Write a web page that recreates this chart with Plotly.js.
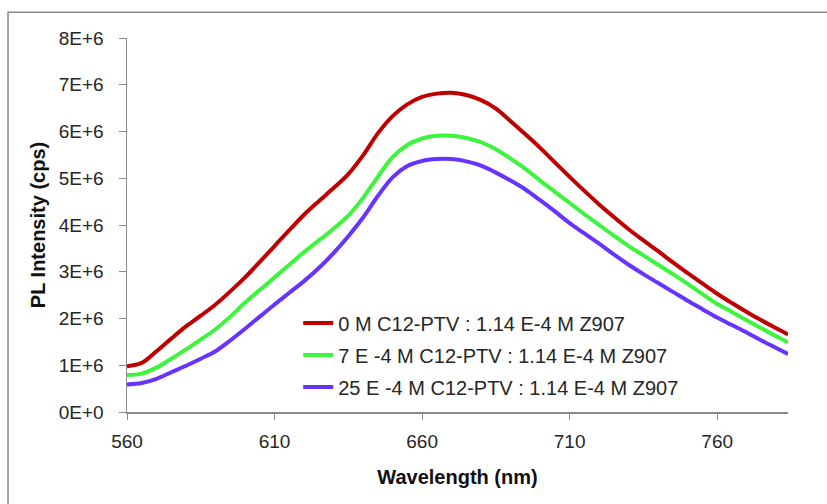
<!DOCTYPE html>
<html>
<head>
<meta charset="utf-8">
<script src="https://cdn.plot.ly/plotly-3.0.1.min.js"></script>
<style>html,body{margin:0;padding:0;background:#fff;}#chart{width:827px;height:504px;}</style>
</head>
<body>
<div id="chart"></div>
<script>
const wavelength = [560, 565, 570, 575, 580, 585, 590, 595, 600, 605, 610, 615, 620, 625, 630, 635, 640, 645, 650, 655, 660, 665, 670, 675, 680, 685, 690, 695, 700, 705, 710, 715, 720, 725, 730, 735, 740, 745, 750, 755, 760, 765, 770, 775, 780, 784];
const pl0 = [0.98, 1.05, 1.30, 1.57, 1.83, 2.06, 2.30, 2.58, 2.88, 3.21, 3.55, 3.89, 4.22, 4.51, 4.79, 5.09, 5.49, 5.96, 6.33, 6.58, 6.74, 6.81, 6.83, 6.78, 6.67, 6.49, 6.22, 5.94, 5.65, 5.34, 5.03, 4.73, 4.44, 4.17, 3.91, 3.67, 3.44, 3.20, 2.97, 2.75, 2.53, 2.33, 2.14, 1.96, 1.79, 1.66];
const pl7 = [0.79, 0.82, 0.95, 1.14, 1.34, 1.55, 1.77, 2.04, 2.34, 2.61, 2.88, 3.15, 3.42, 3.67, 3.92, 4.20, 4.58, 5.03, 5.45, 5.71, 5.85, 5.91, 5.91, 5.86, 5.77, 5.62, 5.42, 5.20, 4.95, 4.71, 4.47, 4.23, 4.00, 3.77, 3.55, 3.35, 3.15, 2.95, 2.74, 2.52, 2.31, 2.14, 1.96, 1.79, 1.62, 1.49];
const pl25 = [0.59, 0.62, 0.71, 0.85, 0.99, 1.14, 1.30, 1.53, 1.78, 2.04, 2.30, 2.55, 2.80, 3.08, 3.40, 3.76, 4.16, 4.62, 5.02, 5.26, 5.37, 5.41, 5.41, 5.36, 5.27, 5.12, 4.95, 4.76, 4.53, 4.29, 4.04, 3.82, 3.60, 3.37, 3.15, 2.95, 2.76, 2.57, 2.38, 2.20, 2.02, 1.86, 1.70, 1.53, 1.37, 1.24];
const seriesNames = ["0 M C12-PTV : 1.14 E-4 M Z907", "7 E -4 M C12-PTV : 1.14 E-4 M Z907", "25 E -4 M C12-PTV : 1.14 E-4 M Z907"];
const seriesColors = ["#C00000", "#3CF53C", "#6633FF"];
const yTickVals = [0, 1e6, 2e6, 3e6, 4e6, 5e6, 6e6, 7e6, 8e6];
const yTickText = ["0E+0", "1E+6", "2E+6", "3E+6", "4E+6", "5E+6", "6E+6", "7E+6", "8E+6"];
const xTickVals = [560, 610, 660, 710, 760];

const scale = v => v * 1e6;
const seriesValues = [pl0, pl7, pl25];
const traces = seriesValues.map((vals, i) => ({
  x: wavelength,
  y: vals.map(scale),
  type: 'scatter',
  mode: 'lines',
  name: seriesNames[i],
  legendgroup: 'g' + i,
  line: {color: seriesColors[i], width: 4, shape: 'spline', smoothing: 1}
}));

const font = "'Liberation Sans', Arial, sans-serif";
const txt = '#262626';
const layout = {
  width: 827, height: 504,
  margin: {l: 127, r: 39, t: 38, b: 92},
  paper_bgcolor: '#fff', plot_bgcolor: '#fff',
  font: {family: font, size: 19, color: txt},
  showlegend: true,
  legend: {x: 0.259, y: 0.29, xanchor: 'left', yanchor: 'top', bgcolor: 'rgba(0,0,0,0)',
           font: {family: font, size: 20, color: txt}, tracegroupgap: 3, itemwidth: 30},
  xaxis: {
    range: [560, 784], tickvals: xTickVals, ticktext: xTickVals.map(String),
    showgrid: false, zeroline: false, showline: true, linecolor: '#8a8a8a', linewidth: 1.5,
    ticks: 'outside', ticklen: 6, tickcolor: '#8a8a8a', ticklabelstandoff: 6,
    tickfont: {family: font, size: 19, color: txt},
    title: {text: 'Wavelength (nm)', font: {family: font, size: 20, color: '#111', weight: 'bold'}, standoff: 18}
  },
  yaxis: {
    range: [0, 8e6], tickvals: yTickVals, ticktext: yTickText,
    showgrid: false, zeroline: false, showline: true, linecolor: '#8a8a8a', linewidth: 1.5,
    ticks: 'outside', ticklen: 7, tickcolor: '#8a8a8a', ticklabelstandoff: 11,
    tickfont: {family: font, size: 19, color: txt},
    title: {text: 'PL Intensity (cps)', font: {family: font, size: 20, color: '#111', weight: 'bold'}, standoff: 8}
  },
  shapes: [{type: 'rect', xref: 'paper', yref: 'paper', x0: -0.18, x1: 1.07, y0: -0.3, y1: 1.0687,
            line: {color: '#8a8a8a', width: 1.5}}]
};

Plotly.newPlot('chart', traces, layout, {displayModeBar: false, staticPlot: true});
</script>
</body>
</html>
